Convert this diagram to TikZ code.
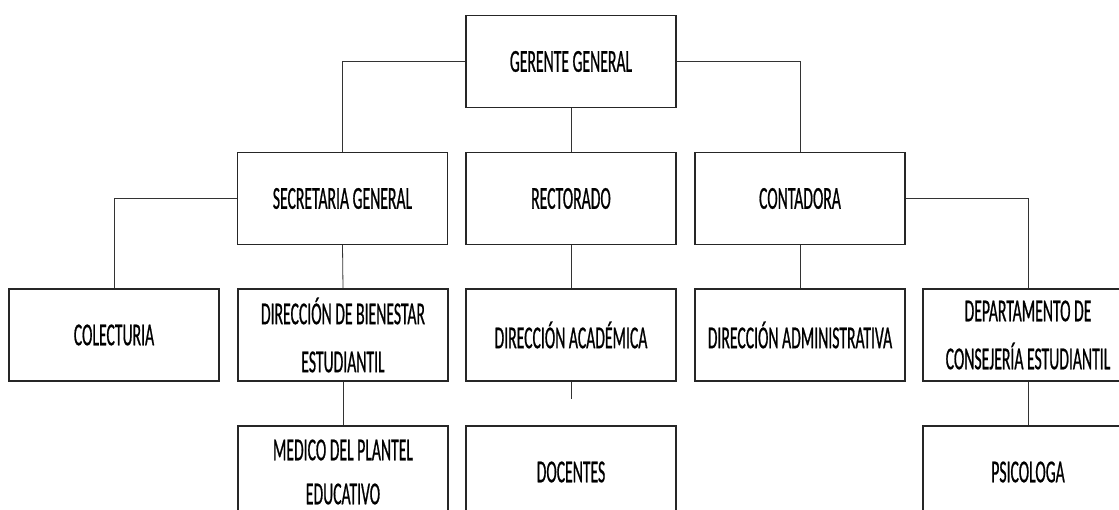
\documentclass[tikz,border=0pt]{standalone}
\usepackage{fontspec}
\setmainfont{Carlito}[FakeStretch=0.49,FakeBold=0.6]
\begin{document}
\begin{tikzpicture}[x=1pt,y=-1pt,
  box/.style={draw=black!85,line width=1.1pt,fill=white,minimum width=210pt,minimum height=92pt,inner sep=0pt,align=center,font=\fontsize{32}{48}\selectfont},
  link/.style={draw=black!80,line width=0.8pt}]
\useasboundingbox (0,0) rectangle (1119,510);
\fill[white] (0,0) rectangle (1119,510);
\clip (0,0) rectangle (1119,510);
% level 1
\node[box] (g) at (571,61.5) {GERENTE GENERAL};
% level 2
\node[box] (s) at (342.5,198.5) {SECRETARIA GENERAL};
\node[box] (r) at (571,198.5) {RECTORADO};
\node[box] (c) at (800,198.5) {CONTADORA};
% level 3
\node[box] (col) at (114,335) {COLECTURIA};
\node[box] (bie) at (343,335) {DIRECCIÓN DE BIENESTAR\\ESTUDIANTIL};
\node[box] (aca) at (571,335) {DIRECCIÓN ACADÉMICA};
\node[box] (adm) at (800,335) {DIRECCIÓN ADMINISTRATIVA};
\node[box] (dep) at (1028,335) {DEPARTAMENTO DE\\CONSEJERÍA ESTUDIANTIL};
% level 4
\node[box,font=\fontsize{32}{44}\selectfont] (med) at (343,472) {MEDICO DEL PLANTEL\\EDUCATIVO};
\node[box] (doc) at (571,472) {DOCENTES};
\node[box] (psi) at (1028,472) {PSICOLOGA};
\coordinate (stub) at (571,399);
% connectors
\draw[link] (g.west) -| (s.north);
\draw[link] (g.south) -- (r.north);
\draw[link] (g.east) -| (c.north);
\draw[link] (s.west) -| (col.north);
\draw[link] (s.south) -- (bie.north);
\draw[link] (bie.south) -- (med.north);
\draw[link] (r.south) -- (aca.north);
\draw[link] (aca.south) -- (stub);
\draw[link] (c.south) -- (adm.north);
\draw[link] (c.east) -| (dep.north);
\draw[link] (dep.south) -- (psi.north);
\end{tikzpicture}
\end{document}
